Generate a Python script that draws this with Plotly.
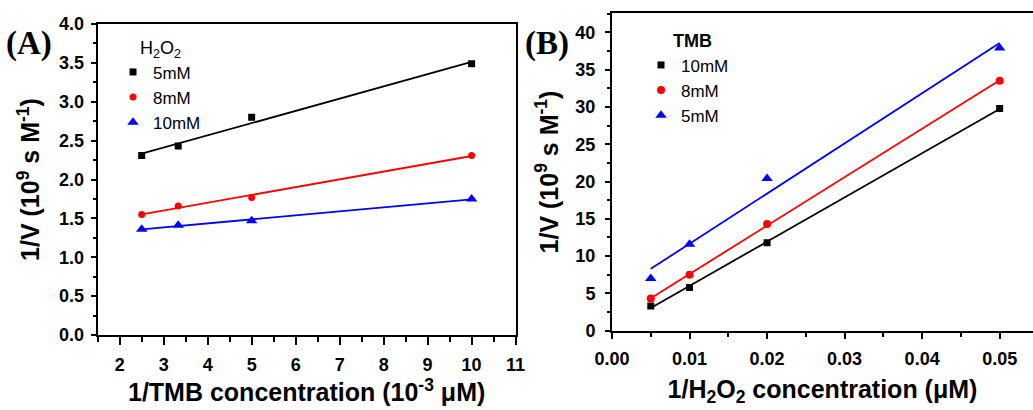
import numpy as np
import plotly.graph_objects as go

# ---------------- data ----------------
# Panel A: 1/V vs 1/[TMB] at three H2O2 concentrations
tmb_inv = [2.5, 3.33, 5, 10]
a_5mM = [2.31, 2.43, 2.80, 3.49]
a_8mM = [1.55, 1.66, 1.77, 2.31]
a_10mM = [1.36, 1.41, 1.47, 1.75]

# Panel B: 1/V vs 1/[H2O2] at three TMB concentrations
h2o2_inv = [0.005, 0.01, 0.02, 0.05]
b_10mM = [3.3, 5.8, 11.8, 29.8]
b_8mM = [4.3, 7.5, 14.3, 33.5]
b_5mM = [7.0, 11.6, 20.4, 37.9]

series_a = [("5mM", a_5mM, "black", "square", 7),
            ("8mM", a_8mM, "red", "circle", 7),
            ("10mM", a_10mM, "blue", "triangle-up", 10)]
series_b = [("10mM", b_10mM, "black", "square", 7),
            ("8mM", b_8mM, "red", "circle", 8),
            ("5mM", b_5mM, "blue", "triangle-up", 10)]

W, H = 1033, 410
def px_x(p):
    return p / W
def px_y(p):
    return 1 - p / H

fig = go.Figure()

def add_panel(xs, series, xa, ya, legend):
    xs = np.array(xs, dtype=float)
    for name, ys, color, sym, size in series:
        k, b = np.polyfit(xs, np.array(ys, dtype=float), 1)
        xl = np.array([xs.min(), xs.max()])
        fig.add_trace(go.Scatter(x=xl, y=k * xl + b, mode="lines",
                                 line=dict(color=color, width=1.8),
                                 xaxis=xa, yaxis=ya, showlegend=False,
                                 hoverinfo="skip"))
    for name, ys, color, sym, size in series:
        fig.add_trace(go.Scatter(x=xs, y=ys, mode="markers", name=name,
                                 marker=dict(color=color, symbol=sym, size=size,
                                             line=dict(width=0)),
                                 xaxis=xa, yaxis=ya, legend=legend))

add_panel(tmb_inv, series_a, "x", "y", "legend")
add_panel(h2o2_inv, series_b, "x2", "y2", "legend2")

tickfont = dict(family="Liberation Sans, Arial, sans-serif", size=18,
                color="black", weight="bold")
titlefont = dict(family="Liberation Sans, Arial, sans-serif", size=25,
                 color="black", weight="bold")

common = dict(showline=True, linecolor="black", linewidth=2, ticks="outside",
              tickcolor="black", tickwidth=1.5, showgrid=False, zeroline=False,
              tickfont=tickfont, automargin=False)

NB = "\u00a0"

fig.update_layout(
    template="none",
    width=W, height=H, margin=dict(l=0, r=0, t=0, b=0, autoexpand=False),
    paper_bgcolor="white", plot_bgcolor="white",
    xaxis=dict(**common, domain=[px_x(97.7), px_x(515.6)], range=[1.5, 11],
               dtick=1, tick0=0, ticklen=8, mirror=True, anchor="y",
               ticklabelstandoff=4,
               minor=dict(ticks="outside", ticklen=5, dtick=0.5, tick0=0,
                          tickcolor="black", tickwidth=1.5),
               title=dict(text="1/TMB concentration (10<sup>-3</sup> \u03bcM)",
                          font=titlefont, standoff=9)),
    yaxis=dict(**common, domain=[px_y(335), px_y(24)], range=[0, 4],
               dtick=0.5, tick0=0, tickformat=".1f", ticklen=5, mirror=True,
               anchor="x", ticklabelstandoff=3,
               minor=dict(ticks="outside", ticklen=3, dtick=0.25, tick0=0,
                          tickcolor="black", tickwidth=1.5),
               title=dict(text="1/V (10<sup>9</sup> s M<sup>-1</sup>)",
                          font=titlefont, standoff=12)),
    xaxis2=dict(**common, domain=[px_x(612), 1.0], range=[0, 0.0543],
                dtick=0.01, tick0=0, tickformat=".2f", ticklen=6, mirror=True,
                anchor="y2", ticklabelstandoff=5,
                minor=dict(ticks="outside", ticklen=4, dtick=0.005, tick0=0,
                           tickcolor="black", tickwidth=1.5),
                title=dict(text="1/H<sub>2</sub>O<sub>2</sub> concentration (\u03bcM)",
                           font=titlefont, standoff=12)),
    yaxis2=dict(**common, domain=[px_y(330.7), px_y(13.3)], range=[0, 42.55],
                dtick=5, tick0=0, ticklen=5, mirror=False, anchor="x2",
                ticklabelstandoff=6,
                minor=dict(ticks="outside", ticklen=3, dtick=2.5, tick0=0,
                           tickcolor="black", tickwidth=1.5),
                title=dict(text="1/V (10<sup>9</sup> s M<sup>-1</sup>)",
                           font=titlefont, standoff=10)),
    legend=dict(title=dict(text=NB * 5 + "H<sub>2</sub>O<sub>2</sub>",
                           font=dict(family="Liberation Sans, Arial", size=18,
                                     color="black")),
                x=px_x(113), y=px_y(31), xanchor="left", yanchor="top",
                bgcolor="rgba(0,0,0,0)", borderwidth=0,
                font=dict(family="Liberation Sans, Arial", size=17, color="black")),
    legend2=dict(title=dict(text=NB * 6 + "TMB",
                            font=dict(family="Liberation Sans, Arial", size=18,
                                      color="black", weight="bold")),
                 x=px_x(641), y=px_y(24), xanchor="left", yanchor="top",
                 bgcolor="rgba(0,0,0,0)", borderwidth=0,
                 font=dict(family="Liberation Sans, Arial", size=17, color="black")),
    annotations=[
        dict(text="(A)", x=px_x(4), y=px_y(44), xref="paper", yref="paper",
             xanchor="left", yanchor="middle", showarrow=False,
             font=dict(family="Liberation Serif, Times New Roman", size=33,
                       color="black", weight="bold")),
        dict(text="(B)", x=px_x(523), y=px_y(44), xref="paper", yref="paper",
             xanchor="left", yanchor="middle", showarrow=False,
             font=dict(family="Liberation Serif, Times New Roman", size=33,
                       color="black", weight="bold")),
    ],
)

fig.write_html("out.html")
